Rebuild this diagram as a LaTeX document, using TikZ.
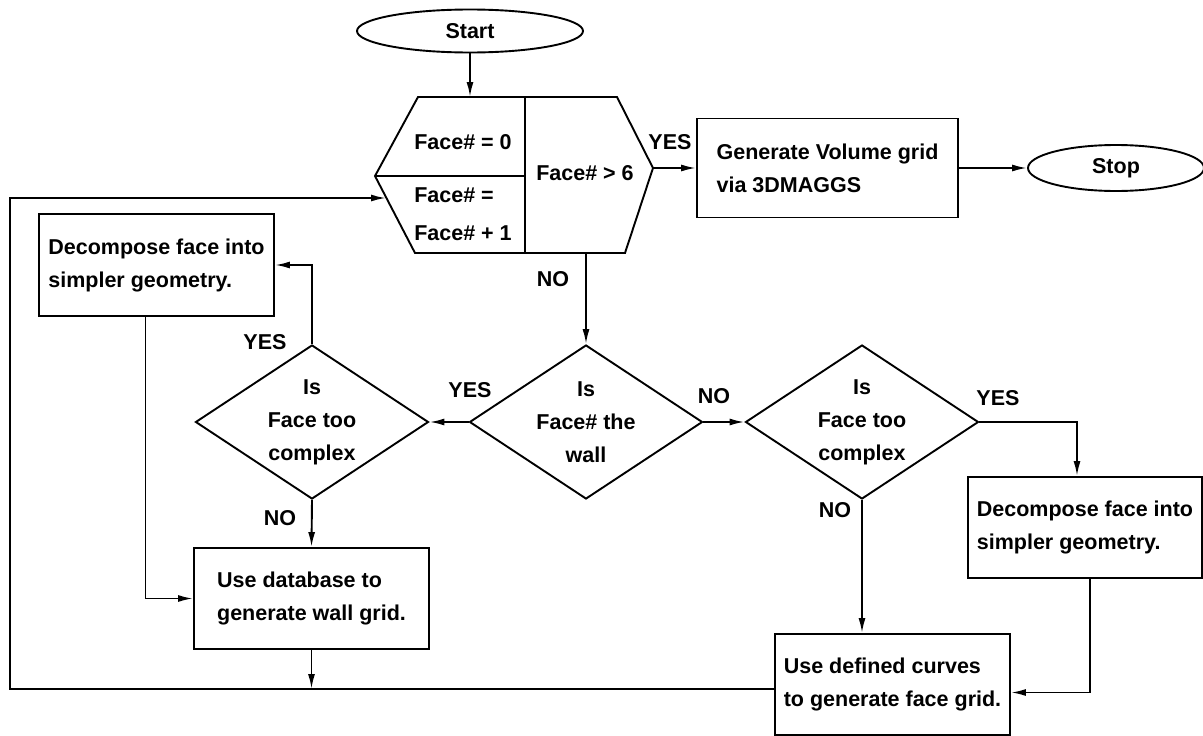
\documentclass[tikz,border=0pt]{standalone}
\usepackage{fontspec}
\setmainfont{Liberation Sans}
\usetikzlibrary{shapes.geometric,arrows.meta,calc}
\begin{document}
\begin{tikzpicture}[x=1pt,y=-1pt,
  every node/.style={font=\bfseries\fontsize{21.5}{33}\selectfont},
  ln/.style={line width=1.9pt},
  arr/.style={ln,-{Latex[length=15pt,width=7pt]}},
  box/.style={draw,ln,rectangle,minimum width=235pt,minimum height=101pt,align=left,inner sep=0pt},
  dia/.style={draw,ln,diamond,aspect=1.5,minimum width=233pt,minimum height=154pt,align=center,inner sep=0pt},
  term/.style={draw,ln,ellipse,inner sep=0pt},
  lbl/.style={inner sep=0pt}]
\useasboundingbox (0,0) rectangle (1203,736);

% terminals
\node[term,minimum width=226pt,minimum height=43pt] (start) at (470,31) {Start};
\node[term,minimum width=176pt,minimum height=46pt] (stop) at (1116,168) {Stop};

% hexagon
\coordinate (hT1) at (418,97);
\coordinate (hT2) at (617,97);
\coordinate (hR) at (653,168);
\coordinate (hB2) at (625,253);
\coordinate (hB1) at (415,253);
\coordinate (hL) at (375,176);
\coordinate (hM) at (525,176);
\coordinate (hDt) at (525,97);
\coordinate (hDb) at (525,253);
\draw[ln] (hT1) -- (hT2) -- (hR) -- (hB2) -- (hB1) -- (hL) -- cycle;
\draw[ln] (hDt) -- (hDb);
\draw[ln] (hL) -- (hM);
\node[lbl] (hexA) at (463,142) {Face\# = 0};
\node[lbl,align=left] (hexB) at (463,214) {Face\# =\\[5pt]Face\# + 1};
\node[lbl] (hexC) at (585,173) {Face\# > 6};

% boxes
\node[box,minimum width=261pt,minimum height=99pt] (gen) at (827.5,168) {Generate Volume grid\\via 3DMAGGS};
\node[box,minimum height=102pt] (decL) at (156.5,265) {Decompose face into\\simpler geometry.};
\node[box] (useDB) at (311.5,598.5) {Use database to\\generate wall grid.};
\node[box,minimum width=234pt] (decR) at (1085,527.5) {Decompose face into\\simpler geometry.};
\node[box] (useDC) at (892.5,684.5) {Use defined curves\\to generate face grid.};

% decisions
\node[dia] (diaL) at (312,422) {Is\\Face too\\complex};
\node[dia] (diaM) at (586,422) {Is\\Face\# the\\wall};
\node[dia] (diaR) at (862,422) {Is\\Face too\\complex};

% connectors
\draw[arr] (start) -- (start |- hT1);
\draw[arr] (hR) -- (hR -| gen.west);
\draw[arr] (gen.east) -- (stop.west);
\draw[arr] (diaM.north |- hB1) -- (diaM.north);
\draw[arr] (diaM.west) -- (diaL.east);
\draw[arr] (diaM.east) -- (diaR.west);
\draw[arr] (diaL.north) |- (decL.east);
\draw[arr] (diaL.south) -- (useDB.north);
\draw[arr] ([xshift=-11pt]decL.south) |- (useDB.west);
\draw[arr] (diaR.east) -| ([xshift=-8pt]decR.north);
\draw[arr] (diaR.south) -- (diaR.south |- useDC.north);
\draw[arr] ([xshift=5pt]decR.south) |- ([yshift=-8pt]useDC.east);

\coordinate (bl) at (10,689);
\coordinate (tl) at (10,198);
\coordinate (hin) at (386,198);
\draw[arr] (useDC.west |- bl) -- (bl) -- (tl) -- (hin);
\draw[arr] (useDB.south) -- (useDB.south |- bl);

% labels
\node[lbl] (l1) at (670,142) {YES};
\node[lbl] (l2) at (553,279) {NO};
\node[lbl] (l3) at (265,342) {YES};
\node[lbl] (l4) at (280,518) {NO};
\node[lbl] (l5) at (470,390) {YES};
\node[lbl] (l6) at (714,396) {NO};
\node[lbl] (l7) at (998,398) {YES};
\node[lbl] (l8) at (835,510) {NO};
\end{tikzpicture}
\end{document}
